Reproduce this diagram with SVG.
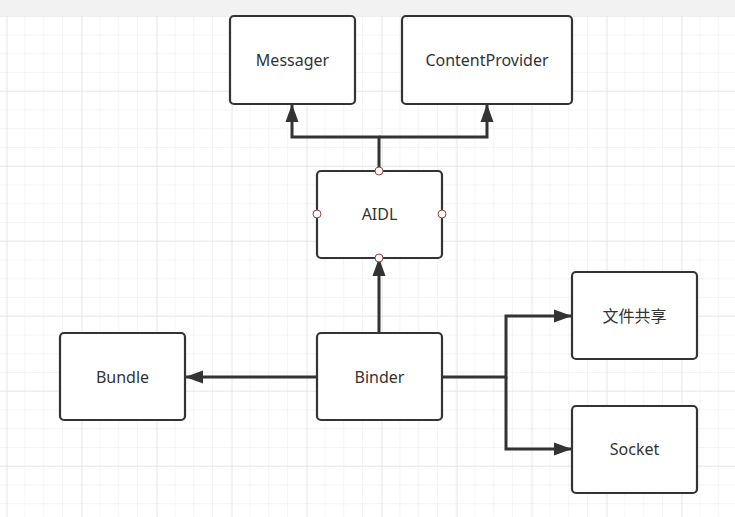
<svg xmlns="http://www.w3.org/2000/svg" width="735" height="517" viewBox="0 0 735 517">
<defs>
<pattern id="minor" x="6.7" y="16.7" width="18.75" height="18.75" patternUnits="userSpaceOnUse">
<path d="M18.75 0V18.75M0 18.75H18.75" fill="none" stroke="#ececec" stroke-width="1"/>
</pattern>
<pattern id="major" x="6.7" y="15.7" width="75" height="75" patternUnits="userSpaceOnUse">
<path d="M0 0V75M0 0H75" fill="none" stroke="#dcdcdc" stroke-width="1"/>
</pattern>
<marker id="arr" viewBox="0 0 18 14" refX="17" refY="7" markerWidth="18" markerHeight="14" markerUnits="userSpaceOnUse" orient="auto">
<path d="M0 0.5L18 7L0 13.5Z" fill="#333"/>
</marker>
<style>
.box rect{fill:#fff;stroke:#333;stroke-width:2.2}
.box text{font-family:"Noto Sans","Noto Sans CJK SC",sans-serif;font-size:16px;fill:#333;text-anchor:middle;dominant-baseline:central}
.conn path{fill:none;stroke:#333;stroke-width:3}
.pt{fill:#fff;stroke:#a04040;stroke-width:1}
</style>
</defs>
<rect width="735" height="517" fill="#fff"/>
<rect width="735" height="517" fill="url(#minor)"/>
<rect width="735" height="517" fill="url(#major)"/>
<rect width="735" height="16" fill="#f2f2f2"/>
<g id="connectors" class="conn">
<path d="M379 171V137H292V105" marker-end="url(#arr)"/>
<path d="M379 137H487V105" marker-end="url(#arr)"/>
<path d="M379 333V259" marker-end="url(#arr)"/>
<path d="M317 377H186" marker-end="url(#arr)"/>
<path d="M442 377H506V316H571" marker-end="url(#arr)"/>
<path d="M506 377V449H571" marker-end="url(#arr)"/>
</g>
<g id="messager" class="box"><rect x="230" y="16" width="125" height="88" rx="4"/><text x="292.5" y="60">Messager</text></g>
<g id="contentprovider" class="box"><rect x="402" y="16" width="170" height="88" rx="4"/><text x="487" y="60">ContentProvider</text></g>
<g id="aidl" class="box"><rect x="317" y="171" width="125" height="87" rx="4"/><text x="379.5" y="214">AIDL</text></g>
<g id="bundle" class="box"><rect x="60" y="333" width="125" height="87" rx="4"/><text x="122.5" y="377">Bundle</text></g>
<g id="binder" class="box"><rect x="317" y="333" width="125" height="87" rx="4"/><text x="379.5" y="377">Binder</text></g>
<g id="fileshare" class="box"><rect x="572" y="272" width="125" height="87" rx="4"/><text x="634.5" y="316">文件共享</text></g>
<g id="socket" class="box"><rect x="572" y="406" width="125" height="87" rx="4"/><text x="634.5" y="449">Socket</text></g>
<g id="aidl-points">
<circle class="pt" cx="379" cy="171" r="4"/>
<circle class="pt" cx="317" cy="214" r="4"/>
<circle class="pt" cx="442" cy="214" r="4"/>
<circle class="pt" cx="379" cy="258" r="4"/>
</g>
</svg>
